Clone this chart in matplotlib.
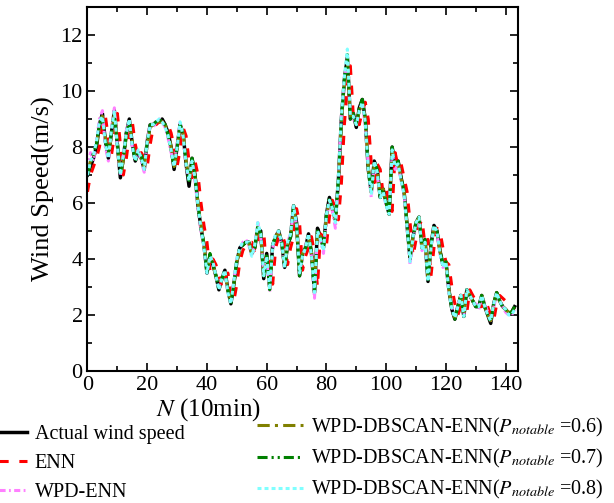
"""
Wind speed forecast comparison (ENN / WPD-ENN / WPD-DBSCAN-ENN)
"""
import numpy as np
import matplotlib
matplotlib.use('Agg')
import matplotlib.pyplot as plt
from matplotlib.ticker import MultipleLocator

plt.rcParams['font.family'] = ['Liberation Serif', 'DejaVu Serif']
plt.rcParams['mathtext.fontset'] = 'stix'

actual = [7.0, 7.3, 7.6, 8.0, 8.8, 9.2, 8.2, 7.6, 8.5, 9.3, 8.1, 6.9, 7.6, 8.5, 9.0, 8.1,
          7.5, 7.8, 7.6, 7.2, 8.2, 8.8, 8.8, 8.9, 8.9, 9.0, 8.8, 8.5, 8.0, 7.2, 8.0, 8.8,
          8.5, 7.4, 6.6, 7.6, 7.0, 5.9, 5.1, 4.5, 3.5, 4.1, 3.8, 3.4, 2.9, 3.3, 3.6, 2.9,
          2.4, 3.1, 3.9, 4.4, 4.5, 4.6, 4.6, 4.2, 4.4, 5.1, 5.0, 3.3, 4.2, 3.0, 4.5, 4.8,
          5.0, 4.6, 3.7, 4.5, 4.8, 5.9, 5.3, 3.4, 4.2, 4.4, 4.9, 4.2, 2.8, 5.1, 4.8, 4.4,
          5.6, 6.2, 5.8, 5.4, 6.8, 9.0, 10.4, 11.2, 9.0, 9.2, 8.7, 9.4, 9.7, 9.0, 7.2, 6.4,
          7.5, 7.2, 6.2, 6.5, 6.0, 5.6, 8.0, 7.3, 7.5, 6.9, 6.4, 5.2, 4.0, 4.8, 5.3, 5.5,
          4.4, 4.7, 3.2, 4.5, 5.2, 5.0, 4.3, 3.8, 3.9, 2.9, 2.2, 1.85, 2.3, 2.7, 1.95, 2.9,
          2.7, 2.5, 2.3, 2.3, 2.7, 2.3, 2.0, 1.7, 2.4, 2.8, 2.5, 2.3, 2.2, 2.05, 2.1, 2.3]

enn = [6.4, 7.0, 7.3, 7.6, 8.0, 8.7, 9.1, 8.3, 7.7, 8.4, 9.2, 8.1, 7.0, 7.6, 8.4, 8.9,
       8.1, 7.6, 7.8, 7.6, 7.3, 8.1, 8.7, 8.8, 8.9, 8.9, 8.9, 8.8, 8.5, 8.0, 7.3, 7.9,
       8.7, 8.4, 7.5, 6.7, 7.5, 7.0, 6.0, 5.2, 4.6, 3.6, 4.0, 3.8, 3.4, 3.0, 3.3, 3.5,
       2.9, 2.5, 3.1, 3.9, 4.3, 4.5, 4.6, 4.6, 4.3, 4.4, 5.0, 5.0, 3.5, 4.1, 3.1, 4.4,
       4.8, 4.9, 4.6, 3.8, 4.4, 4.8, 5.8, 5.3, 3.6, 4.1, 4.4, 4.8, 4.2, 3.0, 4.9, 4.8,
       4.5, 5.5, 6.1, 5.8, 5.4, 6.7, 8.8, 10.2, 10.9, 9.1, 9.1, 8.8, 9.3, 9.6, 9.0, 7.4,
       6.5, 7.4, 7.2, 6.3, 6.5, 6.0, 5.7, 7.8, 7.3, 7.4, 6.9, 6.4, 5.3, 4.1, 4.7, 5.2,
       5.4, 4.5, 4.7, 3.4, 4.4, 5.1, 5.0, 4.4, 3.9, 3.8, 3.0, 2.4, 2.0, 2.3, 2.7, 2.1,
       2.9, 2.7, 2.5, 2.3, 2.3, 2.6, 2.3, 2.0, 1.8, 2.4, 2.7, 2.6, 2.5, 2.4, 2.3, 2.2]

wpd_enn = [7.2, 7.8, 7.5, 8.2, 9.0, 9.3, 8.0, 7.5, 8.6, 9.4, 8.0, 7.0, 7.7, 8.6, 8.9, 8.0,
           7.6, 7.9, 7.5, 7.1, 8.3, 8.8, 8.7, 8.9, 9.0, 8.9, 8.7, 8.3, 7.8, 7.4, 8.1, 8.9,
           8.4, 7.3, 6.9, 7.5, 6.8, 5.8, 5.0, 4.4, 3.6, 4.0, 3.9, 3.3, 3.0, 3.4, 3.5, 2.8,
           2.5, 3.2, 4.0, 4.3, 4.6, 4.7, 4.5, 4.1, 4.5, 5.3, 4.8, 3.5, 4.0, 2.8, 4.4, 4.9,
           4.9, 4.5, 3.8, 4.6, 4.9, 5.8, 5.2, 3.6, 4.1, 4.5, 4.8, 4.1, 2.6, 5.0, 4.7, 4.2,
           5.5, 6.0, 5.7, 5.1, 6.9, 9.1, 10.5, 11.0, 9.1, 9.0, 8.8, 9.3, 9.5, 8.8, 7.3, 6.2,
           7.4, 7.0, 6.3, 6.4, 5.9, 5.7, 7.8, 7.2, 7.4, 6.8, 6.3, 5.1, 3.8, 4.7, 5.2, 5.4,
           4.3, 4.6, 3.3, 4.4, 5.1, 4.9, 4.2, 3.7, 3.8, 2.8, 2.3, 1.9, 2.4, 2.6, 2.0, 2.8,
           2.7, 2.4, 2.4, 2.2, 2.6, 2.4, 2.1, 1.8, 2.3, 2.7, 2.5, 2.3, 2.1, 2.0, 2.0, 2.2]

dbscan_06 = [7.1, 7.5, 7.7, 8.1, 8.7, 9.1, 8.3, 7.7, 8.4, 9.2, 8.2, 7.0, 7.5, 8.4, 8.9, 8.2,
             7.6, 7.7, 7.6, 7.3, 8.1, 8.7, 8.8, 8.9, 8.9, 8.9, 8.8, 8.5, 8.0, 7.3, 7.9, 8.8,
             8.5, 7.5, 6.8, 7.5, 7.0, 6.0, 5.2, 4.5, 3.6, 4.1, 3.8, 3.4, 3.0, 3.3, 3.5, 2.9,
             2.5, 3.1, 3.9, 4.3, 4.5, 4.6, 4.6, 4.2, 4.4, 5.1, 4.9, 3.4, 4.1, 3.0, 4.5, 4.8,
             5.0, 4.6, 3.8, 4.5, 4.8, 5.8, 5.2, 3.5, 4.2, 4.4, 4.8, 4.2, 2.9, 5.0, 4.8, 4.4,
             5.5, 6.1, 5.8, 5.4, 6.8, 8.9, 10.3, 11.1, 9.1, 9.1, 8.8, 9.3, 9.6, 9.0, 7.3, 6.4,
             7.4, 7.2, 6.3, 6.5, 6.0, 5.6, 7.9, 7.3, 7.4, 6.9, 6.4, 5.2, 4.1, 4.8, 5.3, 5.5,
             4.4, 4.7, 3.3, 4.5, 5.1, 5.0, 4.3, 3.8, 3.9, 2.9, 2.2, 1.9, 2.3, 2.7, 2.0, 2.9,
             2.7, 2.5, 2.3, 2.3, 2.7, 2.3, 2.0, 1.8, 2.4, 2.8, 2.5, 2.3, 2.2, 2.1, 2.1, 2.3]

dbscan_07 = [7.0, 7.4, 7.8, 8.1, 8.8, 9.0, 8.2, 7.8, 8.5, 9.1, 8.1, 7.1, 7.6, 8.5, 8.9, 8.1,
             7.5, 7.8, 7.7, 7.3, 8.2, 8.8, 8.8, 8.9, 9.0, 8.9, 8.8, 8.4, 7.9, 7.3, 8.0, 8.8,
             8.5, 7.4, 6.8, 7.6, 7.0, 5.9, 5.1, 4.5, 3.5, 4.2, 3.8, 3.4, 2.9, 3.3, 3.6, 2.9,
             2.4, 3.1, 4.0, 4.4, 4.5, 4.6, 4.6, 4.2, 4.4, 5.2, 4.9, 3.3, 4.2, 2.9, 4.5, 4.8,
             5.0, 4.6, 3.7, 4.5, 4.8, 5.9, 5.2, 3.4, 4.2, 4.4, 4.9, 4.2, 2.8, 5.0, 4.8, 4.4,
             5.6, 6.2, 5.8, 5.4, 6.8, 9.0, 10.4, 11.3, 9.0, 9.2, 8.8, 9.4, 9.7, 9.0, 7.2, 6.4,
             7.5, 7.2, 6.2, 6.5, 6.0, 5.6, 8.0, 7.3, 7.5, 6.9, 6.4, 5.2, 4.0, 4.8, 5.3, 5.5,
             4.4, 4.7, 3.2, 4.5, 5.2, 5.0, 4.3, 3.8, 3.9, 2.9, 2.2, 1.85, 2.3, 2.7, 1.95, 2.9,
             2.7, 2.5, 2.3, 2.3, 2.7, 2.3, 2.0, 1.75, 2.4, 2.8, 2.5, 2.3, 2.2, 2.05, 2.1, 2.3]

dbscan_08 = [7.0, 7.5, 7.7, 8.2, 8.9, 9.1, 8.1, 7.6, 8.6, 9.3, 8.0, 7.0, 7.7, 8.5, 9.0, 8.0,
             7.5, 7.9, 7.6, 7.2, 8.2, 8.8, 8.8, 8.9, 9.0, 8.9, 8.7, 8.4, 7.9, 7.3, 8.0, 8.9,
             8.4, 7.4, 6.8, 7.5, 6.9, 5.9, 5.1, 4.4, 3.5, 4.1, 3.9, 3.4, 2.9, 3.3, 3.6, 2.8,
             2.4, 3.2, 4.0, 4.4, 4.6, 4.6, 4.6, 4.1, 4.5, 5.3, 4.9, 3.4, 4.1, 2.9, 4.5, 4.9,
             5.0, 4.6, 3.7, 4.6, 4.9, 5.9, 5.2, 3.5, 4.1, 4.4, 4.9, 4.1, 2.8, 5.0, 4.7, 4.3,
             5.6, 6.1, 5.8, 5.3, 6.9, 9.1, 10.5, 11.5, 9.1, 9.1, 8.8, 9.3, 9.6, 8.9, 7.2, 6.3,
             7.5, 7.1, 6.2, 6.4, 5.9, 5.6, 7.9, 7.3, 7.4, 6.8, 6.3, 5.1, 3.9, 4.8, 5.3, 5.5,
             4.3, 4.6, 3.2, 4.4, 5.2, 5.0, 4.2, 3.7, 3.9, 2.8, 2.2, 1.9, 2.3, 2.7, 1.95, 2.9,
             2.7, 2.5, 2.3, 2.3, 2.7, 2.3, 2.0, 1.8, 2.4, 2.8, 2.5, 2.3, 2.2, 2.0, 2.0, 2.2]

labels_left = ['Actual wind speed', 'ENN', 'WPD-ENN']
labels_right = [r'WPD-DBSCAN-ENN($P_{notable}$ =0.6)',
                r'WPD-DBSCAN-ENN($P_{notable}$ =0.7)',
                r'WPD-DBSCAN-ENN($P_{notable}$ =0.8)']

LW = 2.2


def plot_series(ax):
    n = np.arange(len(actual))
    l0, = ax.plot(n, actual, color='black', lw=LW + 0.3, solid_joinstyle='round')
    l1, = ax.plot(n, enn, color='#FF0000', lw=LW, dashes=(3.0, 3.5))
    l2, = ax.plot(n, wpd_enn, color='#FF80FF', lw=LW, dashes=(2.0, 1.1, 0.6, 1.1))
    l3, = ax.plot(n, dbscan_06, color='#808000', lw=LW, dashes=(4.0, 1.7, 1.0, 1.7))
    l4, = ax.plot(n, dbscan_07, color='#008000', lw=LW, dashes=(3.3, 1.3, 0.7, 1.3, 0.7, 1.3))
    l5, = ax.plot(n, dbscan_08, color='#80FFFF', lw=LW, dashes=(1.3, 1.0))
    return [l0, l1, l2], [l3, l4, l5]


fig = plt.figure(figsize=(6.14, 5.03), dpi=100)
ax = fig.add_axes([0.1425, 0.2624, 0.7005, 0.7236])
left_handles, right_handles = plot_series(ax)

ax.set_xlim(0, 144)
ax.set_ylim(0, 13)
ax.xaxis.set_major_locator(MultipleLocator(20))
ax.xaxis.set_minor_locator(MultipleLocator(10))
ax.yaxis.set_major_locator(MultipleLocator(2))
ax.yaxis.set_minor_locator(MultipleLocator(1))
ax.tick_params(which='both', direction='in', top=True, right=True, width=1.2, labelsize=16)
ax.tick_params(which='major', length=6)
ax.tick_params(which='minor', length=3.5)
for sp in ax.spines.values():
    sp.set_linewidth(1.5)

ax.set_ylabel('Wind Speed(m/s)', fontsize=19, labelpad=4)
fig.text(208 / 614, 1 - 410 / 503, r'$N$ (10min)', fontsize=18, ha='center', va='center')

fig.legend(handles=left_handles, labels=labels_left, loc='upper left',
           bbox_to_anchor=(-0.022, 1 - 425 / 503), frameon=False, fontsize=14.5,
           handlelength=2.0, handletextpad=0.4, labelspacing=0.5,
           borderpad=0, borderaxespad=0)
fig.legend(handles=right_handles, labels=labels_right, loc='upper left',
           bbox_to_anchor=(257 / 614, 1 - 416 / 503), frameon=False, fontsize=14.5,
           handlelength=2.3, handletextpad=0.4, labelspacing=0.4,
           borderpad=0, borderaxespad=0)

fig.savefig('out.png', dpi=100)
